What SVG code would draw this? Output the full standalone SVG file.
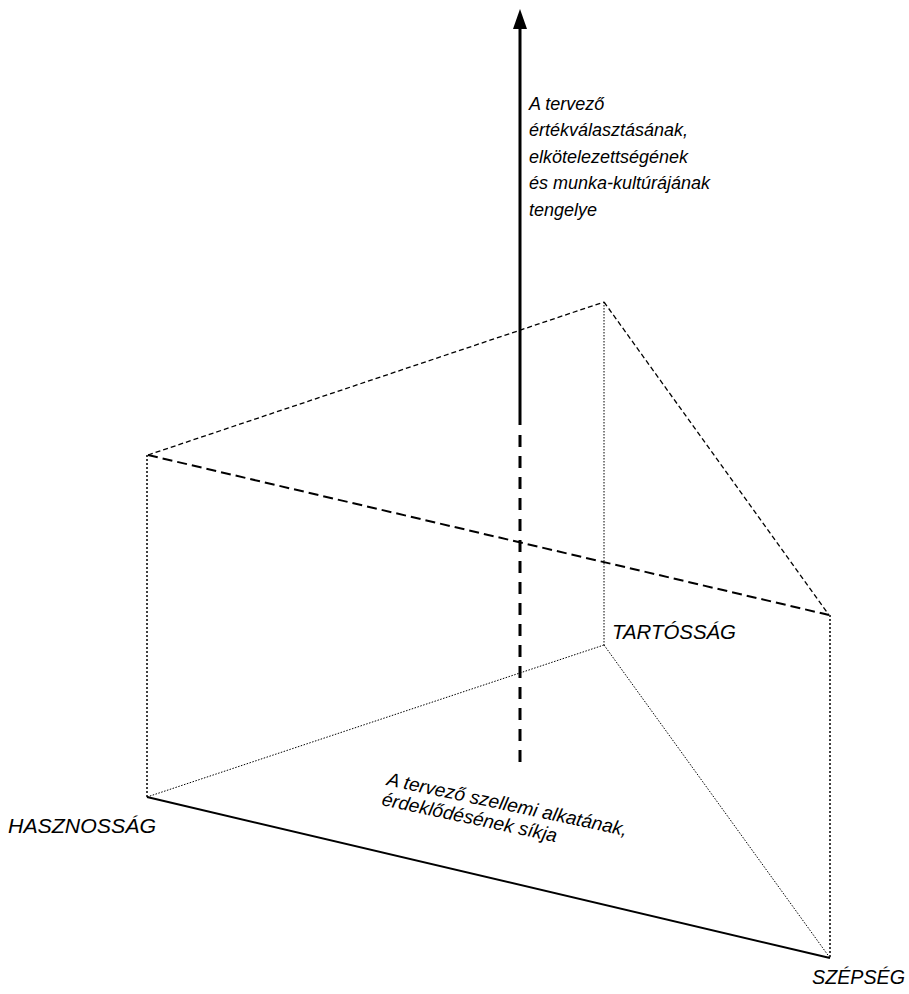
<svg xmlns="http://www.w3.org/2000/svg" width="909" height="994" viewBox="0 0 909 994">
<defs>
<style>
text{font-family:"Liberation Sans",Arial,sans-serif;font-style:italic;font-size:18px;fill:#000}
.cap{font-size:20px}
.plane{font-size:19px}
.dash1{stroke:#000;stroke-width:1.3;stroke-dasharray:5 3;fill:none}
.dash2{stroke:#000;stroke-width:2;stroke-dasharray:10 5;fill:none}
.dot{stroke:#000;stroke-width:1.5;stroke-dasharray:2 2;fill:none}
.dotthin{stroke:#000;stroke-width:1;stroke-dasharray:1.5 1.5;fill:none}
.solid{stroke:#000;stroke-width:2;fill:none}
</style>
</defs>
<g id="connectors">
<line class="dash1" x1="148" y1="455" x2="604" y2="302"/>
<line class="dash1" x1="604" y1="302" x2="829" y2="615"/>
<line class="dash2" x1="148" y1="455" x2="829" y2="615"/>
<line class="dot" x1="147" y1="455" x2="147" y2="797"/>
<line class="dotthin" x1="604" y1="302" x2="604" y2="645"/>
<line class="dot" x1="830" y1="615" x2="830" y2="958"/>
<line class="dotthin" x1="147" y1="797" x2="604" y2="645"/>
<line class="dotthin" x1="604" y1="645" x2="830" y2="958"/>
<line class="solid" x1="147" y1="797" x2="830" y2="958"/>
</g>
<g id="axis">
<line x1="520" y1="26" x2="520" y2="425" stroke="#000" stroke-width="3"/>
<polygon points="520,9 513,29 527,29" fill="#000"/>
<line x1="520" y1="435" x2="520" y2="768" stroke="#000" stroke-width="3" stroke-dasharray="12 9"/>
</g>
<g id="axis-label">
<text x="529" y="110">A tervező</text>
<text x="529" y="136">értékválasztásának,</text>
<text x="529" y="163">elkötelezettségének</text>
<text x="529" y="189">és munka-kultúrájának</text>
<text x="529" y="216">tengelye</text>
</g>
<g id="plane-label">
<text class="plane" transform="translate(386,785) rotate(12)">A tervező szellemi alkatának,</text>
<text class="plane" transform="translate(381,805) rotate(12)">érdeklődésének síkja</text>
</g>
<g id="tartossag"><text class="cap" x="612" y="639" textLength="124" lengthAdjust="spacingAndGlyphs">TARTÓSSÁG</text></g>
<g id="hasznossag"><text class="cap" x="8" y="833" textLength="148" lengthAdjust="spacingAndGlyphs">HASZNOSSÁG</text></g>
<g id="szepseg"><text class="cap" x="812" y="984" textLength="93" lengthAdjust="spacingAndGlyphs">SZÉPSÉG</text></g>
</svg>
